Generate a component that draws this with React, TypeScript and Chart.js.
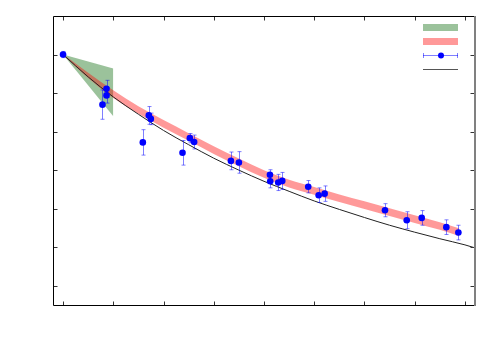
import React, { useEffect, useRef } from "react";
import { Chart, registerables } from "chart.js";

Chart.register(...registerables);

// measured points with vertical error bars
const pointX = [0, 0.785, 0.865, 0.865, 1.707, 1.747, 1.588, 2.378, 2.524, 2.61, 3.341, 3.5, 4.118, 4.124, 4.283, 4.363, 4.88, 5.088, 5.207, 6.408, 6.841, 7.139, 7.629, 7.869];
const pointY = [1.0, 0.87, 0.911, 0.894, 0.842, 0.833, 0.772, 0.745, 0.783, 0.773, 0.724, 0.72, 0.688, 0.671, 0.668, 0.672, 0.657, 0.635, 0.639, 0.596, 0.57, 0.576, 0.552, 0.538];
const pointErr = [0.008, 0.038, 0.022, 0.02, 0.023, 0.015, 0.033, 0.032, 0.012, 0.018, 0.023, 0.028, 0.013, 0.017, 0.021, 0.022, 0.016, 0.019, 0.02, 0.017, 0.022, 0.019, 0.019, 0.019];

// black model curve
const lineX = [0, 0.5, 1, 1.5, 2, 2.5, 3, 3.5, 4, 4.5, 5, 5.5, 6, 6.5, 7, 7.5, 8, 8.18];
const lineY = [1.0, 0.942, 0.89, 0.845, 0.803, 0.766, 0.731, 0.7, 0.671, 0.645, 0.62, 0.598, 0.577, 0.557, 0.539, 0.522, 0.506, 0.499];

// red band
const bandX = [0, 0.5, 1, 1.5, 2, 2.5, 3, 3.5, 4, 4.5, 5, 5.5, 6, 6.5, 7, 7.5, 7.88];
const bandUpper = [1.001, 0.953, 0.907, 0.866, 0.83, 0.796, 0.762, 0.73, 0.7, 0.675, 0.656, 0.637, 0.619, 0.601, 0.583, 0.565, 0.549];
const bandLower = [0.999, 0.939, 0.887, 0.846, 0.81, 0.776, 0.742, 0.71, 0.68, 0.655, 0.636, 0.617, 0.599, 0.581, 0.563, 0.545, 0.529];

// green wedge
const wedgeX = [0, 1.0];
const wedgeUpper = [1.0, 0.964];
const wedgeLower = [1.0, 0.84];

// axis ticks (no labels shown)
const xTicks = [0, 1, 2, 3, 4, 5, 6, 7, 8];
const yTicks = [0.4, 0.5, 0.6, 0.7, 0.8, 0.9, 1.0];

const GREEN = "rgba(34,120,34,0.45)";
const RED = "rgba(255,0,0,0.4)";
const BLUE = "#0000ff";
const ERR = "rgba(0,0,255,0.5)";

const zip = (xs: number[], ys: number[]) => xs.map((x, i) => ({ x, y: ys[i] }));

const decorPlugin = {
  id: "decor",
  beforeDatasetDraw(chart: any, args: any) {
    if (args.index !== 0) return;
    const ctx = chart.ctx;
    const xs = chart.scales.x;
    const ys = chart.scales.y;
    ctx.save();
    ctx.strokeStyle = ERR;
    ctx.lineWidth = 1;
    pointX.forEach((x, i) => {
      const px = Math.round(xs.getPixelForValue(x)) + 0.5;
      const y1 = ys.getPixelForValue(pointY[i] + pointErr[i]);
      const y2 = ys.getPixelForValue(pointY[i] - pointErr[i]);
      ctx.beginPath();
      ctx.moveTo(px, y1);
      ctx.lineTo(px, y2);
      ctx.moveTo(px - 2, y1);
      ctx.lineTo(px + 2, y1);
      ctx.moveTo(px - 2, y2);
      ctx.lineTo(px + 2, y2);
      ctx.stroke();
    });
    ctx.restore();
  },
  afterDraw(chart: any) {
    const ctx = chart.ctx;
    const a = chart.chartArea;
    const xs = chart.scales.x;
    const ys = chart.scales.y;
    const L = Math.round(a.left) + 0.5;
    const R = Math.round(a.right) + 0.5;
    const T = Math.round(a.top) + 0.5;
    const B = Math.round(a.bottom) + 0.5;
    ctx.save();
    // ticks
    ctx.strokeStyle = "#333";
    ctx.lineWidth = 1;
    ctx.beginPath();
    xTicks.forEach((v) => {
      const p = Math.round(xs.getPixelForValue(v)) + 0.5;
      ctx.moveTo(p, B);
      ctx.lineTo(p, B - 4);
      ctx.moveTo(p, T);
      ctx.lineTo(p, T + 4);
    });
    yTicks.forEach((v) => {
      const p = Math.round(ys.getPixelForValue(v)) + 0.5;
      ctx.moveTo(L, p);
      ctx.lineTo(L + 4, p);
      ctx.moveTo(R, p);
      ctx.lineTo(R - 4, p);
    });
    ctx.stroke();
    // frame
    ctx.strokeStyle = "#000";
    ctx.beginPath();
    ctx.moveTo(R, T);
    ctx.lineTo(L, T);
    ctx.lineTo(L, B);
    ctx.lineTo(R, B);
    ctx.stroke();
    ctx.strokeStyle = "#808080";
    ctx.lineWidth = 2;
    ctx.beginPath();
    ctx.moveTo(R + 0.5, T - 0.5);
    ctx.lineTo(R + 0.5, B + 0.5);
    ctx.stroke();

    // legend
    const lx1 = 423;
    const lx2 = 458;
    ctx.fillStyle = GREEN;
    ctx.fillRect(lx1, 24, lx2 - lx1, 7);
    ctx.fillStyle = RED;
    ctx.fillRect(lx1, 38, lx2 - lx1, 7);
    ctx.strokeStyle = ERR;
    ctx.lineWidth = 1;
    ctx.beginPath();
    ctx.moveTo(lx1, 55.5);
    ctx.lineTo(lx2, 55.5);
    ctx.moveTo(lx1 + 0.5, 53);
    ctx.lineTo(lx1 + 0.5, 58);
    ctx.moveTo(lx2 - 0.5, 53);
    ctx.lineTo(lx2 - 0.5, 58);
    ctx.stroke();
    ctx.fillStyle = BLUE;
    ctx.beginPath();
    ctx.arc(441, 55.5, 3, 0, Math.PI * 2);
    ctx.fill();
    ctx.strokeStyle = "#555";
    ctx.beginPath();
    ctx.moveTo(lx1, 69.5);
    ctx.lineTo(lx2, 69.5);
    ctx.stroke();
    ctx.restore();
  },
};

export default function App() {
  const ref = useRef<HTMLCanvasElement>(null);
  useEffect(() => {
    if (!ref.current) return;
    const chart = new Chart(ref.current, {
      type: "line",
      data: {
        datasets: [
          {
            data: zip(pointX, pointY),
            showLine: false,
            pointRadius: 3.3,
            pointBackgroundColor: BLUE,
            pointBorderWidth: 0,
            borderColor: BLUE,
          },
          {
            data: zip(lineX, lineY),
            borderColor: "#222",
            borderWidth: 1,
            pointRadius: 0,
            tension: 0,
            cubicInterpolationMode: "monotone",
          },
          {
            data: zip(bandX, bandUpper),
            borderWidth: 0,
            borderColor: "rgba(0,0,0,0)",
            backgroundColor: RED,
            pointRadius: 0,
            cubicInterpolationMode: "monotone",
            fill: "+1",
          },
          {
            data: zip(bandX, bandLower),
            borderWidth: 0,
            borderColor: "rgba(0,0,0,0)",
            pointRadius: 0,
            cubicInterpolationMode: "monotone",
            fill: false,
          },
          {
            data: zip(wedgeX, wedgeUpper),
            borderWidth: 0,
            borderColor: "rgba(0,0,0,0)",
            backgroundColor: GREEN,
            pointRadius: 0,
            fill: "+1",
          },
          {
            data: zip(wedgeX, wedgeLower),
            borderWidth: 0,
            borderColor: "rgba(0,0,0,0)",
            pointRadius: 0,
            fill: false,
          },
        ],
      },
      options: {
        responsive: false,
        animation: false,
        layout: { padding: { left: 53, top: 16, right: 26, bottom: 45 } },
        plugins: { legend: { display: false }, tooltip: { enabled: false } },
        scales: {
          x: { type: "linear", min: -0.2, max: 8.18, display: false },
          y: { type: "linear", min: 0.35, max: 1.1, display: false },
        },
      },
      plugins: [decorPlugin],
    });
    return () => chart.destroy();
  }, []);
  return (
    <div style={{ position: "absolute", left: 0, top: 0, width: 500, height: 350, background: "#fff" }}>
      <canvas ref={ref} width={500} height={350} style={{ display: "block" }} />
    </div>
  );
}
